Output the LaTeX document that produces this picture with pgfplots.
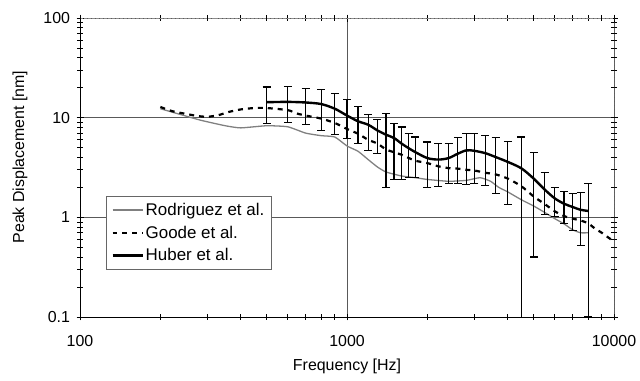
\documentclass[border=0pt]{standalone}
\usepackage{fontspec}
\setmainfont{Liberation Sans}
\usepackage{pgfplots}
\pgfplotsset{compat=1.18}
\usepackage{pgfplotstable}

\pgfplotstableread{
f m ep em
500 14.3 6.0 5.5
600 14.4 6.2 5.5
700 14.2 5.6 5.7
800 13.7 5.5 6.2
900 12.3 5.3 5.5
1000 10.5 4.6 4.35
1100 9.2 3.8 3.65
1200 8.5 2.2 3.8
1300 7.45 2.15 3.1
1400 6.75 4.25 4.75
1500 6.25 2.45 3.85
1600 5.5 2.55 3.1
1700 4.95 2.05 2.42
1800 4.52 1.88 1.99
2000 3.93 1.77 1.93
2200 3.8 1.7 1.75
2400 3.93 1.57 1.76
2600 4.35 1.95 2.18
2800 4.7 2.3 2.55
3000 4.65 2.25 2.48
3300 4.4 2.2 2.3
3600 4.03 2.27 2.28
4000 3.6 2.2 2.26
4500 3.1 3.3 3.05
5000 2.45 2.05 2.05
5500 1.9 0.9 0.84
6000 1.55 0.45 0.53
6500 1.37 0.46 0.51
7000 1.27 0.48 0.53
7500 1.19 0.6 0.67
8000 1.16 1.01 1.06
}\huber

\pgfplotstableread{
f v
200 12.8
222 11.6
250 10.9
275 10.4
300 10.2
330 10.6
360 11.4
400 12.1
450 12.5
500 12.5
600 11.9
650 11.0
700 10.5
800 9.8
900 8.85
1000 7.7
1100 6.9
1200 6.0
1300 5.5
1400 4.8
1500 4.5
1600 4.25
1700 3.95
1800 3.7
2000 3.5
2200 3.25
2400 3.12
2600 3.08
2800 3.0
3000 2.95
3300 2.8
3600 2.7
4000 2.45
4500 2.05
5000 1.62
5500 1.36
6000 1.15
6500 1.03
7000 0.97
7500 0.93
8000 0.87
8500 0.77
9000 0.7
10000 0.57
}\goode

\pgfplotstableread{
f v
200 12.3
280 9.5
350 8.3
400 7.9
500 8.3
600 8.1
700 7.0
800 6.6
900 6.4
1000 5.2
1100 4.6
1200 3.8
1300 3.2
1400 2.85
1600 2.6
1800 2.5
2000 2.4
2400 2.3
2800 2.35
3150 2.5
3450 2.3
3700 2.0
4000 1.8
4500 1.5
5000 1.3
5500 1.12
6000 0.97
6500 0.86
7000 0.75
7500 0.70
8000 0.70
}\rodriguez

\begin{document}
\begin{tikzpicture}
\useasboundingbox (-80bp,-64bp) rectangle (560bp,317bp);
\begin{axis}[
  scale only axis,
  width=534bp, height=299bp,
  xmode=log, ymode=log,
  xmin=100, xmax=10000, ymin=0.1, ymax=100,
  xtick={100,1000,10000}, xticklabels={100,1000,10000},
  ytick={0.1,1,10,100}, yticklabels={0.1,1,10,100},
  grid=major,
  major grid style={line width=0.6pt, draw=black!65},
  axis line style={draw=none},
  tick align=center,
  major tick length=7bp, minor tick length=6bp,
  tick style={line width=0.6pt, black},
  ticklabel style={font=\fontsize{16}{19}\selectfont},
  xticklabel style={yshift=-11bp},
  yticklabel style={xshift=-3bp},
  xlabel={Frequency [Hz]},
  ylabel={Peak Displacement [nm]},
  label style={font=\fontsize{16}{19}\selectfont},
  xlabel style={at={(axis description cs:0.5,-0.164)}, anchor=center},
  ylabel style={at={(axis description cs:-0.1124,0.535)}, anchor=center},
  legend style={at={(rel axis cs:0.0487,0.405)}, anchor=north west,
    draw=black!60, line width=0.6pt, font=\fontsize{17}{20}\selectfont,
    inner xsep=5bp, inner ysep=5bp, row sep=5bp},
  legend cell align=left,
  legend image code/.code={\draw[#1] (0bp,0bp) -- (30bp,0bp);},
]
\draw[black!45, line width=0.8pt, dash pattern=on 3pt off 1pt] (rel axis cs:0,1) -- (rel axis cs:1,1) -- (rel axis cs:1,0);
\draw[black, line width=0.9pt] (rel axis cs:0,1) -- (rel axis cs:0,0) -- (rel axis cs:1,0);
\addplot[black!50, line width=1.3pt, smooth, tension=0.3] table[x=f,y=v] {\rodriguez};
\addlegendentry{Rodriguez et al.}
\addplot[black, line width=2.2pt, dash pattern=on 5pt off 5pt, smooth, tension=0.4] table[x=f,y=v] {\goode};
\addlegendentry{Goode et al.}
\addplot[black, line width=2.4pt, smooth, tension=0.5,
  error bars/.cd, y dir=both, y explicit,
  error bar style={line width=1.2pt, solid},
  error mark options={rotate=90, mark size=4bp, line width=1.2pt}]
  table[x=f,y=m,y error plus=ep,y error minus=em] {\huber};
\addlegendentry{Huber et al.}
\end{axis}
\end{tikzpicture}
\end{document}
